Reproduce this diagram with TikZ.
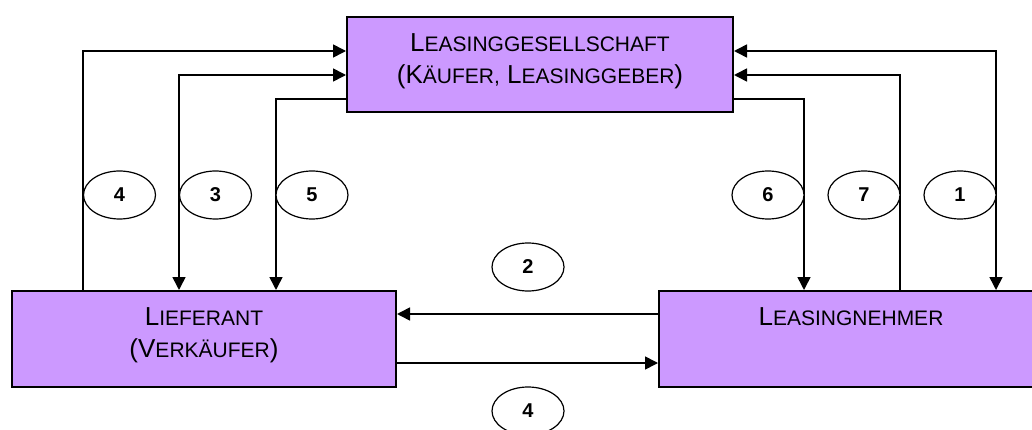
\documentclass[tikz,border=0pt]{standalone}
\usepackage{fontspec}
\setmainfont{Liberation Sans}
\usetikzlibrary{arrows.meta,shapes.geometric}
\definecolor{boxfill}{RGB}{204,153,255}
% hand-made small capitals: full-size initial, reduced capitals after it
\newcommand\capword[2]{{\fontsize{26}{32}\selectfont #1}{\fontsize{21}{32}\selectfont #2}}

\begin{document}
\begin{tikzpicture}[x=1pt,y=-1pt,
  party/.style={draw=black,line width=2pt,fill=boxfill,rectangle,inner sep=0pt},
  partytext/.style={inner sep=0pt,align=center,font=\fontsize{26}{32}\selectfont},
  flow/.style={line width=1.6pt,-{Triangle[length=13pt,width=13pt]}},
  twoway/.style={line width=1.6pt,{Triangle[length=13pt,width=13pt]}-{Triangle[length=13pt,width=13pt]}},
  tag/.style={draw=black,fill=white,ellipse,line width=1.2pt,minimum width=72pt,
    minimum height=48pt,inner sep=0pt,font=\fontsize{20}{20}\selectfont\bfseries}]
\useasboundingbox (0,0) rectangle (1032,430);
\clip (0,0) rectangle (1032,430);

% the three parties
\node[party,minimum width=386pt,minimum height=95pt] (T) at (540,64.5) {};
\node[party,minimum width=384pt,minimum height=96pt] (L) at (204,339) {};
\node[party,minimum width=384pt,minimum height=96pt] (R) at (851,339) {};
\node[partytext] (Tt) at (540,61)
  {\capword{L}{EASINGGESELLSCHAFT}\\(\capword{K}{ÄUFER,} \capword{L}{EASINGGEBER})};
\node[partytext] (Lt) at (204,335)
  {\capword{L}{IEFERANT}\\(\capword{V}{ERKÄUFER})};
\node[partytext] (Rt) at (851,317) {\capword{L}{EASINGNEHMER}};

% routing levels
\coordinate (y51) at (0,51);
\coordinate (y75) at (0,75);
\coordinate (y99) at (0,99);
\coordinate (y314) at (0,314);
\coordinate (y363) at (0,363);
\coordinate (x83) at (83,0);
\coordinate (x179) at (179,0);
\coordinate (x276) at (276,0);
\coordinate (x804) at (804,0);
\coordinate (x900) at (900,0);
\coordinate (x996) at (996,0);

% connectors
\draw[flow] (L.north -| x83) |- (T.west |- y51);
\draw[twoway] (T.west |- y75) -| (L.north -| x179);
\draw[flow] (T.west |- y99) -| (L.north -| x276);
\draw[flow] (T.east |- y99) -| (R.north -| x804);
\draw[flow] (R.north -| x900) |- (T.east |- y75);
\draw[twoway] (T.east |- y51) -| (R.north -| x996);
\draw[flow] (R.west |- y314) -- (L.east |- y314);
\draw[flow] (L.east |- y363) -- (R.west |- y363);

% step numbers
\node[tag] (s4a) at (119.5,195) {4};
\node[tag] (s3) at (215.5,195) {3};
\node[tag] (s5) at (312,195) {5};
\node[tag] (s6) at (768,195) {6};
\node[tag] (s7) at (864,195) {7};
\node[tag] (s1) at (960,195) {1};
\node[tag] (s2) at (528,267) {2};
\node[tag] (s4b) at (528,411) {4};
\end{tikzpicture}
\end{document}
